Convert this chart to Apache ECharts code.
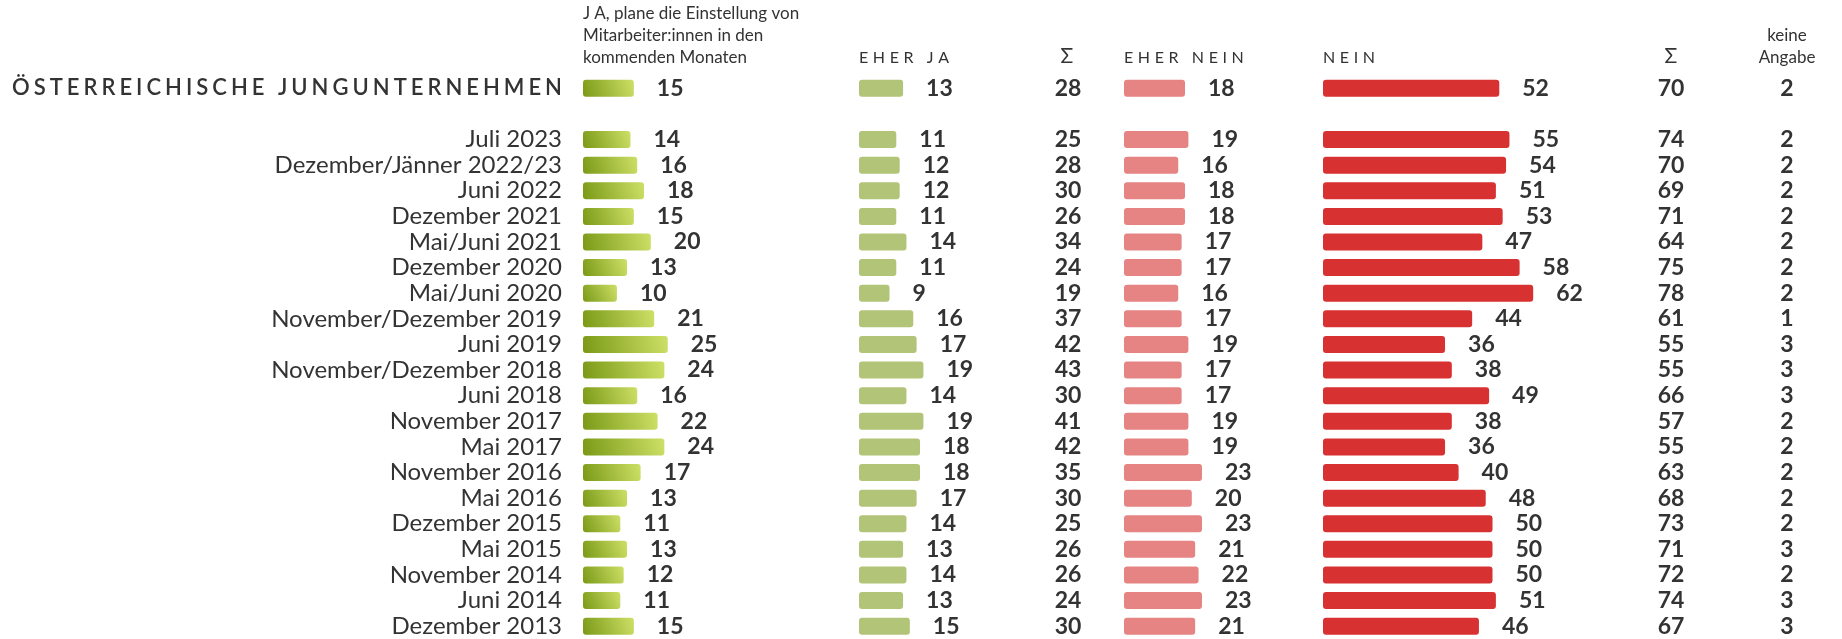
<!DOCTYPE html>
<html>
<head>
<meta charset="utf-8">
<title>Österreichische Jungunternehmen – Einstellung von Mitarbeiter:innen</title>
<script src="https://cdn.jsdelivr.net/npm/echarts@6/dist/echarts.min.js"></script>
<style>
  html, body { margin: 0; padding: 0; background: #fff; }
  #chart { width: 1842px; height: 639px; }
</style>
</head>
<body>
<div id="chart"></div>
<script>
// Gesamtzeile
var totalLabel = 'ÖSTERREICHISCHE JUNGUNTERNEHMEN';
var totalJa = 15, totalEherJa = 13, totalSumJa = 28;
var totalEherNein = 18, totalNein = 52, totalSumNein = 70, totalKeine = 2;

// Befragungswellen
var periods = ['Juli 2023', 'Dezember/Jänner 2022/23', 'Juni 2022', 'Dezember 2021', 'Mai/Juni 2021',
  'Dezember 2020', 'Mai/Juni 2020', 'November/Dezember 2019', 'Juni 2019', 'November/Dezember 2018',
  'Juni 2018', 'November 2017', 'Mai 2017', 'November 2016', 'Mai 2016', 'Dezember 2015', 'Mai 2015',
  'November 2014', 'Juni 2014', 'Dezember 2013'];
var ja       = [14, 16, 18, 15, 20, 13, 10, 21, 25, 24, 16, 22, 24, 17, 13, 11, 13, 12, 11, 15];
var eherJa   = [11, 12, 12, 11, 14, 11,  9, 16, 17, 19, 14, 19, 18, 18, 17, 14, 13, 14, 13, 15];
var sumJa    = [25, 28, 30, 26, 34, 24, 19, 37, 42, 43, 30, 41, 42, 35, 30, 25, 26, 26, 24, 30];
var eherNein = [19, 16, 18, 18, 17, 17, 16, 17, 19, 17, 17, 19, 19, 23, 20, 23, 21, 22, 23, 21];
var nein     = [55, 54, 51, 53, 47, 58, 62, 44, 36, 38, 49, 38, 36, 40, 48, 50, 50, 50, 51, 46];
var sumNein  = [74, 70, 69, 71, 64, 75, 78, 61, 55, 55, 66, 57, 55, 63, 68, 73, 71, 72, 74, 67];
var keine    = [ 2,  2,  2,  2,  2,  2,  2,  1,  3,  3,  3,  2,  2,  2,  2,  2,  3,  2,  3,  3];

// Gesamtzeile + Leerzeile + Wellen
var cats = [totalLabel, ''].concat(periods);
function rows(first, arr) {
  return [first, null].concat(arr);
}

var K = 3.39;          // px pro Prozentpunkt
var TOP = 75.5;
var ROW = 25.62;
var H = ROW * cats.length;
var FONT = 'Lato, "Open Sans", sans-serif';
var TXT = '#333333';

// Buchstaben sperren (rich text, padding je Zeichen)
function spaced(str, style) {
  return str.split('').map(function (c) { return '{' + style + '|' + c + '}'; }).join('');
}

var jaGradient = new echarts.graphic.LinearGradient(0, 1, 1, 0, [
  { offset: 0, color: '#7a9916' },
  { offset: 1, color: '#cde067' }
]);

var barCols = [
  { left: 583, data: rows(totalJa, ja), color: jaGradient },
  { left: 859, data: rows(totalEherJa, eherJa), color: '#b1c477' },
  { left: 1124, data: rows(totalEherNein, eherNein), color: '#e68383' },
  { left: 1323, data: rows(totalNein, nein), color: '#d83132' }
];
var textCols = [
  { center: 1068, data: rows(totalSumJa, sumJa) },
  { center: 1671, data: rows(totalSumNein, sumNein) },
  { center: 1787, data: rows(totalKeine, keine) }
];

var grids = [], xAxes = [], yAxes = [], series = [];

barCols.forEach(function (col, i) {
  grids.push({ left: col.left, top: TOP, width: 100 * K, height: H });
  xAxes.push({ gridIndex: i, type: 'value', min: 0, max: 100, show: false });
  yAxes.push({
    gridIndex: i,
    type: 'category',
    data: cats,
    inverse: true,
    show: i === 0,
    axisLine: { show: false },
    axisTick: { show: false },
    splitLine: { show: false },
    axisLabel: {
      interval: 0,
      margin: 21,
      fontFamily: FONT,
      fontSize: 24,
      color: TXT,
      formatter: function (val, idx) {
        if (idx === 0) return spaced(val, 'c');
        return val;
      },
      rich: {
        c: { fontFamily: FONT, fontSize: 22, fontWeight: 600, color: TXT, padding: [0, 0, 0, 4] }
      }
    }
  });
  series.push({
    type: 'bar',
    xAxisIndex: i,
    yAxisIndex: i,
    data: col.data,
    barWidth: 17,
    silent: true,
    itemStyle: { color: col.color, borderRadius: 3 },
    label: {
      show: true,
      position: 'right',
      distance: 23,
      fontFamily: FONT,
      fontSize: 23,
      fontWeight: 'bold',
      color: TXT
    }
  });
});

// Summen- und "keine Angabe"-Spalten als Text über die Kategorienachse
textCols.forEach(function (col, j) {
  var gi = barCols.length + j;
  grids.push({ left: col.center - 30, top: TOP, width: 60, height: H });
  xAxes.push({ gridIndex: gi, type: 'value', min: -1, max: 1, show: false });
  yAxes.push({ gridIndex: gi, type: 'category', data: cats, inverse: true, show: false });
  series.push({
    type: 'custom',
    xAxisIndex: gi,
    yAxisIndex: gi,
    silent: true,
    data: col.data.map(function (v, i) { return [0, i, v]; })
      .filter(function (d) { return d[2] != null; }),
    renderItem: function (params, api) {
      var pt = api.coord([api.value(0), api.value(1)]);
      return {
        type: 'text',
        x: pt[0],
        y: pt[1],
        style: {
          text: String(api.value(2)),
          align: 'center',
          verticalAlign: 'middle',
          fontFamily: FONT,
          fontSize: 23,
          fontWeight: 'bold',
          fill: TXT
        }
      };
    }
  });
});

function headText(x, y, text, align, rich, size) {
  return {
    type: 'text',
    x: x,
    y: y,
    silent: true,
    style: {
      text: text,
      align: align || 'left',
      verticalAlign: 'middle',
      fontFamily: FONT,
      fontSize: size || 17,
      fill: TXT,
      rich: rich
    }
  };
}
var hRich = { h: { fontFamily: FONT, fontSize: 16, fill: TXT, padding: [0, 4.6, 0, 0] } };
var jRich = { h: { fontFamily: FONT, fontSize: 17, fill: TXT, padding: [0, 4, 0, 0] } };

var chart = echarts.init(document.getElementById('chart'));
chart.setOption({
  animation: false,
  backgroundColor: '#ffffff',
  grid: grids,
  xAxis: xAxes,
  yAxis: yAxes,
  series: series,
  graphic: [
    headText(583, 14, '{h|J}A, plane die Einstellung von', 'left', jRich),
    headText(583, 36, 'Mitarbeiter:innen in den'),
    headText(583, 58, 'kommenden Monaten'),
    headText(859, 58, spaced('EHER JA', 'h'), 'left', hRich),
    headText(1067, 56, 'Σ', 'center', null, 21),
    headText(1124, 58, spaced('EHER NEIN', 'h'), 'left', hRich),
    headText(1323, 58, spaced('NEIN', 'h'), 'left', hRich),
    headText(1671, 56, 'Σ', 'center', null, 21),
    headText(1787, 36, 'keine', 'center'),
    headText(1787, 58, 'Angabe', 'center')
  ]
});
</script>
</body>
</html>
